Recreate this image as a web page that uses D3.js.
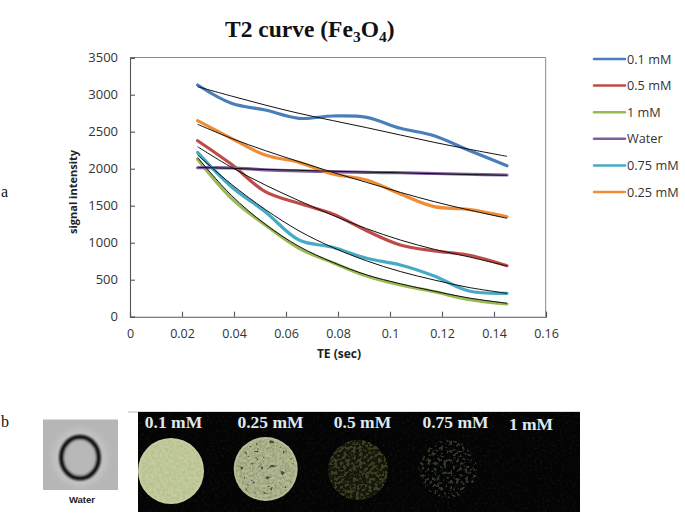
<!DOCTYPE html>
<html><head><meta charset="utf-8">
<script src="https://cdnjs.cloudflare.com/ajax/libs/d3/7.8.5/d3.min.js"></script>
<style>html,body{margin:0;padding:0;background:#fff}svg{display:block}</style>
</head><body><div id="chart"></div>
<script>
const te = [0.026,0.039,0.052,0.065,0.078,0.091,0.104,0.117,0.130,0.145];
const names = ["0.1 mM","0.5 mM","1 mM","Water","0.75 mM","0.25 mM"];
const v01  = [3131,2884,2793,2680,2712,2694,2546,2446,2253,2040];
const v05  = [2378,2059,1690,1532,1388,1162,969,888,834,689];
const v1   = [2127,1600,1239,924,730,550,428,338,235,172];
const vW   = [2013,2010,1985,1970,1960,1950,1945,1935,1925,1915];
const v075 = [2221,1757,1419,1036,938,789,699,550,351,316];
const v025 = [2649,2410,2185,2086,1928,1847,1658,1487,1451,1351];
const f01  = [3108,2982,2860,2748,2650,2555,2455,2356,2266,2167];
const f05  = [2297,2019,1780,1568,1370,1190,1036,911,811,685];
const f1   = [2150,1640,1250,950,735,565,445,345,255,181];
const fW   = [2018,2005,1990,1978,1965,1955,1945,1932,1922,1910];
const f075 = [2185,1790,1450,1160,935,755,610,496,397,316];
const f025 = [2600,2410,2245,2095,1950,1815,1680,1555,1445,1330];
const xTicks = [0,0.02,0.04,0.06,0.08,0.1,0.12,0.14,0.16];
const yTicks = [0,500,1000,1500,2000,2500,3000,3500];
const phantomLabels = ["0.1 mM","0.25 mM","0.5 mM","0.75 mM","1 mM"];

const colors = ["#4a7ebb","#be4b48","#98b954","#7d5fa0","#46aac5","#f08c35"];
const values = [v01,v05,v1,vW,v075,v025];
const fits = [f01,f05,f1,fW,f075,f025];

const W=685,H=514;
const svg=d3.select("#chart").append("svg").attr("width",W).attr("height",H);
const defs=svg.append("defs");
const x=d3.scaleLinear().domain([0,0.16]).range([130,546]);
const y=d3.scaleLinear().domain([0,3500]).range([316.7,57.7]);
const tickFont='"Open Sans","Noto Sans",sans-serif';
const serif='"Liberation Serif","Times New Roman",serif';

// frame
svg.append("path").attr("d",`M130 57.5H545.7V316.7`).attr("fill","none").attr("stroke","#888").attr("stroke-width",1);

const xAxis=d3.axisBottom(x).tickValues(xTicks).tickFormat(d=>String(d)).tickSize(-5).tickPadding(12);
const yAxis=d3.axisLeft(y).tickValues(yTicks).tickSize(-5).tickPadding(12).tickFormat(d3.format("d"));
for(const [ax,tr,fs] of [[xAxis,"translate(0,316.7)",12.5],[yAxis,"translate(130,0)",13]]){
  const g=svg.append("g").attr("transform",tr).call(ax);
  g.selectAll("path,line").attr("stroke","#555").attr("stroke-width",1.1);
  g.selectAll("text").attr("font-family",tickFont).attr("font-size",fs).attr("fill","#333");
}
const line=d3.line().x((d,i)=>x(te[i])).y(d=>y(d)).curve(d3.curveCatmullRom.alpha(0.5));
svg.append("g").selectAll("path").data(values).join("path")
  .attr("d",line).attr("fill","none").attr("stroke",(d,i)=>colors[i]).attr("stroke-width",3.2).attr("stroke-linecap","round");
svg.append("g").selectAll("path").data(fits).join("path")
  .attr("d",line).attr("fill","none").attr("stroke","#111").attr("stroke-width",1);

// titles
const title=svg.append("text").attr("x",225).attr("y",37).attr("font-family",serif).attr("font-weight","bold").attr("font-size",23.5).attr("fill","#111");
title.append("tspan").text("T2 curve (Fe");
title.append("tspan").text("3").attr("font-size",15.5).attr("dy",4.5);
title.append("tspan").text("O").attr("dy",-4.5);
title.append("tspan").text("4").attr("font-size",15.5).attr("dy",4.5);
title.append("tspan").text(")").attr("dy",-4.5);
svg.append("text").attr("x",339).attr("y",358).attr("text-anchor","middle").attr("font-family",tickFont).attr("font-weight","bold").attr("font-size",12).attr("fill","#222").text("TE (sec)");
svg.append("text").attr("transform","translate(77,192) rotate(-90)").attr("text-anchor","middle").attr("font-family",tickFont).attr("font-weight","bold").attr("font-size",11).attr("fill","#222").text("signal intensity");
svg.append("text").attr("x",1).attr("y",197).attr("font-family",serif).attr("font-size",16).attr("fill","#111").text("a");
svg.append("text").attr("x",1).attr("y",427).attr("font-family",serif).attr("font-size",16).attr("fill","#111").text("b");

// legend
const ly=d3.scalePoint().domain(names).range([59,192]);
const lg=svg.append("g").selectAll("g").data(names).join("g").attr("transform",d=>`translate(0,${ly(d)})`);
lg.append("line").attr("x1",594).attr("x2",625).attr("stroke",(d,i)=>colors[i]).attr("stroke-width",2.5).attr("stroke-linecap","round");
lg.append("text").attr("x",627).attr("y",4.5).attr("font-family",tickFont).attr("font-size",12.7).attr("fill","#333").text(d=>d);

// texture filters
function speck(id,freq,seed,slope,icpt,blur){
  const f=defs.append("filter").attr("id",id).attr("x","-5%").attr("y","-5%").attr("width","110%").attr("height","110%");
  f.append("feTurbulence").attr("type","fractalNoise").attr("baseFrequency",freq).attr("numOctaves",2).attr("seed",seed).attr("result","n");
  f.append("feColorMatrix").attr("in","n").attr("type","matrix").attr("values",`0 0 0 0 0 0 0 0 0 0 0 0 0 0 0 ${slope} 0 0 0 ${icpt}`).attr("result","a");
  f.append("feComposite").attr("in","SourceGraphic").attr("in2","a").attr("operator","in").attr("result","c");
  f.append("feGaussianBlur").attr("in","c").attr("stdDeviation",blur);
}
speck("sLight",0.35,3,3,-1.0,0.5);
speck("sDark",0.2,7,12,-7.9,0.7);
speck("sDark2",0.4,4,3,-1.0,0.5);
speck("sMid",0.32,11,9,-4.3,0.6);
speck("sFaint",0.32,5,9,-4.8,0.6);
speck("sBg",0.4,9,6,-3.4,0.6);
defs.append("filter").attr("id","soft").append("feGaussianBlur").attr("stdDeviation",0.7);
defs.append("filter").attr("id","soft2").append("feGaussianBlur").attr("stdDeviation",1);
defs.append("filter").attr("id","soft3").append("feGaussianBlur").attr("stdDeviation",3);

// water image
const wg=svg.append("g");
wg.append("rect").attr("x",43).attr("y",419.5).attr("width",75).attr("height",70.5).attr("fill","#b6b6b6");
wg.append("ellipse").attr("cx",80).attr("cy",457.5).attr("rx",27).attr("ry",29).attr("fill","#c4c4c4").attr("filter","url(#soft3)");
wg.append("ellipse").attr("cx",80).attr("cy",457.7).attr("rx",18.5).attr("ry",20.5).attr("fill","#b8b8b8").attr("stroke","#111").attr("stroke-width",4.8).attr("filter","url(#soft2)");
svg.append("text").attr("x",82).attr("y",503).attr("text-anchor","middle").attr("font-family",'"Liberation Sans",Arial,sans-serif').attr("font-weight","bold").attr("font-size",9.5).attr("fill","#222").text("Water");

// phantom panel
svg.append("line").attr("x1",128).attr("x2",580).attr("y1",412).attr("y2",412).attr("stroke","#bbb");
svg.append("rect").attr("x",138).attr("y",412).attr("width",442).attr("height",100).attr("fill","#040404");
svg.append("rect").attr("x",138).attr("y",412).attr("width",442).attr("height",100).attr("fill","#2c3826").attr("filter","url(#sBg)").attr("opacity",.22);
const diskX=[171,265.7,358,448], diskY=[471,469,470,469], diskR=[33,32,30,29];
const labelX=[173.5,270.5,362.5,455.5,531];
const dg=svg.append("g");
// 0.1 mM
dg.append("circle").attr("cx",diskX[0]).attr("cy",diskY[0]).attr("r",diskR[0]).attr("fill","#c5cd9f").attr("filter","url(#soft)");
dg.append("circle").attr("cx",diskX[0]).attr("cy",diskY[0]).attr("r",diskR[0]-2).attr("fill","#aab685").attr("filter","url(#sLight)").attr("opacity",.5);
// 0.25 mM
dg.append("circle").attr("cx",diskX[1]).attr("cy",diskY[1]).attr("r",diskR[1]).attr("fill","#b6bc95").attr("filter","url(#soft)");
dg.append("circle").attr("cx",diskX[1]).attr("cy",diskY[1]).attr("r",diskR[1]-2).attr("fill","#8f9670").attr("filter","url(#sDark2)").attr("opacity",.7);
dg.append("circle").attr("cx",diskX[1]).attr("cy",diskY[1]).attr("r",diskR[1]-3).attr("fill","#4a5040").attr("filter","url(#sDark)");
// 0.5 mM
dg.append("circle").attr("cx",diskX[2]).attr("cy",diskY[2]).attr("r",diskR[2]).attr("fill","#12140a").attr("filter","url(#soft)");
dg.append("circle").attr("cx",diskX[2]).attr("cy",diskY[2]).attr("r",diskR[2]).attr("fill","#3c4022").attr("filter","url(#sMid)");
// 0.75 mM
dg.append("circle").attr("cx",diskX[3]).attr("cy",diskY[3]).attr("r",diskR[3]).attr("fill","#32382c").attr("filter","url(#sFaint)");
svg.append("g").selectAll("text").data(phantomLabels).join("text")
  .attr("x",(d,i)=>labelX[i]).attr("y",(d,i)=>i===4?430:428).attr("text-anchor","middle")
  .attr("font-family",serif).attr("font-weight","bold").attr("font-size",17.5).attr("fill","#dfe8ee").text(d=>d);
</script></body></html>
